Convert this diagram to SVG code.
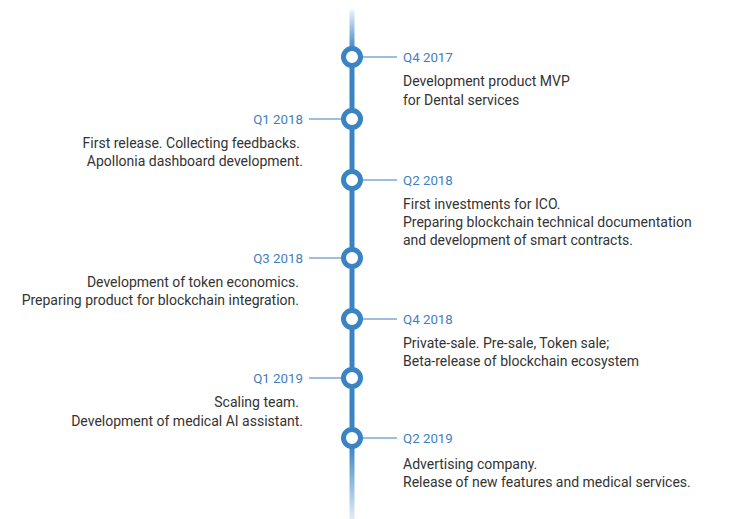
<svg xmlns="http://www.w3.org/2000/svg" width="736" height="519" viewBox="0 0 736 519">
<style>
.t{font-family:Roboto,"Liberation Sans",sans-serif;font-size:14px;fill:#333}
.q{font-family:Roboto,"Liberation Sans",sans-serif;font-size:13.3px;fill:#3f7fbf}
.l{text-anchor:end}
.c{stroke:#3f7fbf;stroke-width:1.2}
.n{fill:#fff;stroke:#3a84c4;stroke-width:5}
</style>
<defs>
<linearGradient id="gt" x1="0" y1="0" x2="0" y2="1">
<stop offset="0" stop-color="#3a84c4" stop-opacity="0.1"/>
<stop offset="1" stop-color="#3a84c4" stop-opacity="1"/>
</linearGradient>
<linearGradient id="gb" x1="0" y1="0" x2="0" y2="1">
<stop offset="0" stop-color="#3a84c4" stop-opacity="1"/>
<stop offset="1" stop-color="#3a84c4" stop-opacity="0.15"/>
</linearGradient>
</defs>
<g id="spine">
<rect x="349.5" y="10" width="5" height="40" fill="url(#gt)"/>
<rect x="349.5" y="50" width="5" height="395" fill="#3a84c4"/>
<rect x="349.5" y="445" width="5" height="74" fill="url(#gb)"/>
</g>
<g id="connectors">
<line class="c" x1="362" y1="57" x2="397" y2="57"/>
<line class="c" x1="309" y1="119" x2="342" y2="119"/>
<line class="c" x1="362" y1="180" x2="397" y2="180"/>
<line class="c" x1="309" y1="258" x2="342" y2="258"/>
<line class="c" x1="362" y1="319" x2="397" y2="319"/>
<line class="c" x1="309" y1="378" x2="342" y2="378"/>
<line class="c" x1="362" y1="438" x2="397" y2="438"/>
</g>
<g id="q4-2017">
<circle class="n" cx="352" cy="57" r="8.5"/>
<text class="q" x="403" y="62">Q4 2017</text>
<text class="t" x="403" y="86">Development product MVP</text>
<text class="t" x="403" y="105">for Dental services</text>
</g>
<g id="q1-2018">
<circle class="n" cx="352" cy="119" r="8.5"/>
<text class="q l" x="303" y="124">Q1 2018</text>
<text class="t l" x="300" y="148">First release. Collecting feedbacks.</text>
<text class="t l" x="303" y="166">Apollonia dashboard development.</text>
</g>
<g id="q2-2018">
<circle class="n" cx="352" cy="180" r="8.5"/>
<text class="q" x="403" y="185">Q2 2018</text>
<text class="t" x="403" y="209">First investments for ICO.</text>
<text class="t" x="403" y="227">Preparing blockchain technical documentation</text>
<text class="t" x="403" y="245">and development of smart contracts.</text>
</g>
<g id="q3-2018">
<circle class="n" cx="352" cy="258" r="8.5"/>
<text class="q l" x="303" y="263">Q3 2018</text>
<text class="t l" x="299" y="287">Development of token economics.</text>
<text class="t l" x="299" y="305">Preparing product for blockchain integration.</text>
</g>
<g id="q4-2018">
<circle class="n" cx="352" cy="319" r="8.5"/>
<text class="q" x="403" y="324">Q4 2018</text>
<text class="t" x="403" y="348">Private-sale. Pre-sale, Token sale;</text>
<text class="t" x="403" y="366">Beta-release of blockchain ecosystem</text>
</g>
<g id="q1-2019">
<circle class="n" cx="352" cy="378" r="8.5"/>
<text class="q l" x="303" y="383">Q1 2019</text>
<text class="t l" x="299" y="407">Scaling team.</text>
<text class="t l" x="303" y="426">Development of medical AI assistant.</text>
</g>
<g id="q2-2019">
<circle class="n" cx="352" cy="438" r="8.5"/>
<text class="q" x="403" y="443">Q2 2019</text>
<text class="t" x="403" y="469">Advertising company.</text>
<text class="t" x="403" y="487">Release of new features and medical services.</text>
</g>
</svg>
